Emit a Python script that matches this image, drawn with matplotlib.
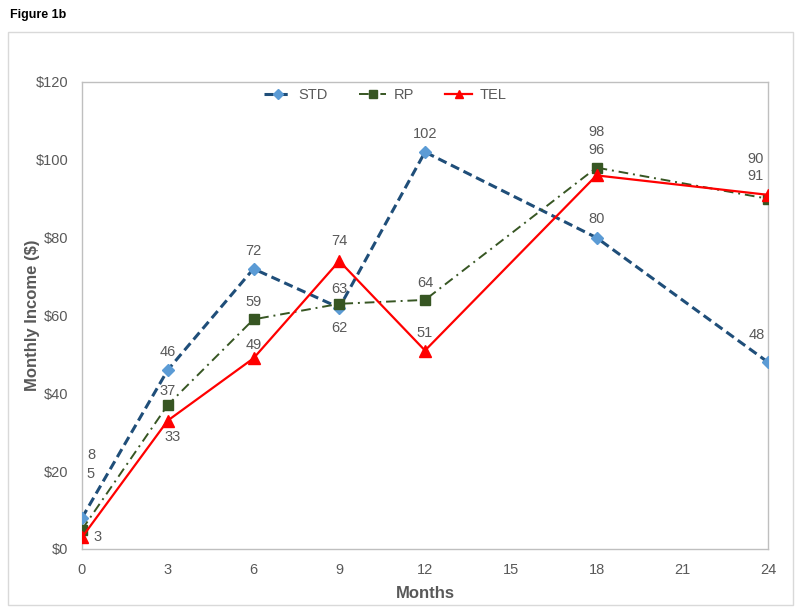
import matplotlib.pyplot as plt
from matplotlib.patches import Rectangle

plt.rcParams['font.family'] = ['Liberation Sans', 'DejaVu Sans']

months = [0, 3, 6, 9, 12, 18, 24]
std = [8, 46, 72, 62, 102, 80, 48]
rp = [5, 37, 59, 63, 64, 98, 90]
tel = [3, 33, 49, 74, 51, 96, 91]

# label offsets in pixels (as placed in the original)
std_off = [(9, 63), (0, 18), (0, 18), (0, -20), (0, 18), (0, 19), (-11, 27)]
rp_off = [(9, 56), (0, 14), (0, 17), (0, 15), (0, 17), (0, 36), (-12, 40)]
tel_off = [(16, 0), (5, -16), (0, 13), (0, 20), (0, 18), (0, 25), (-12, 19)]

grey = '#595959'

fig = plt.figure(figsize=(8, 6.11), dpi=100)
fig.patches.append(Rectangle((0.01, 0.01), 0.981, 0.938, transform=fig.transFigure,
                             fill=False, edgecolor='#D9D9D9', linewidth=1))
fig.text(0.0125, 0.975, 'Figure 1b', fontsize=9, fontweight='bold', va='center')

ax = fig.add_axes([0.1025, 0.1015, 0.8575, 0.7643])

ax.plot(months, std, linestyle=(0, (3, 1.6)), color='#1F4E79', linewidth=2.2,
        marker='D', markersize=6.5, markerfacecolor='#5B9BD5', markeredgecolor='#5B9BD5',
        label='STD', zorder=3)
ax.plot(months, rp, linestyle=(0, (5, 2.5, 1, 2.5)), color='#375623', linewidth=1.4,
        marker='s', markersize=7, markerfacecolor='#375623', markeredgecolor='#375623',
        label='RP', zorder=3)
ax.plot(months, tel, linestyle='-', color='#FF0000', linewidth=1.6,
        marker='^', markersize=8, markerfacecolor='#FF0000', markeredgecolor='#FF0000',
        label='TEL', zorder=3)

for vals, offs in [(std, std_off), (rp, rp_off), (tel, tel_off)]:
    for x, y, (dx, dy) in zip(months, vals, offs):
        ax.annotate(str(y), (x, y), xytext=(dx, dy), textcoords='offset pixels',
                    ha='center', va='center', fontsize=10.5, color=grey)

ax.set_xlim(0, 24)
ax.set_ylim(0, 120)
ax.set_xticks(range(0, 25, 3))
ax.set_yticks(range(0, 121, 20))
ax.set_yticklabels(['$%d' % v for v in range(0, 121, 20)])
ax.tick_params(length=0, labelsize=10.5, labelcolor=grey, pad=10)
for s in ax.spines.values():
    s.set_color('#BFBFBF')
    s.set_linewidth(1)

ax.set_xlabel('Months', fontsize=12, fontweight='bold', color=grey)
ax.set_ylabel('Monthly Income ($)', fontsize=12, fontweight='bold', color=grey)
ax.xaxis.set_label_coords(0.5, -0.079)
ax.yaxis.set_label_coords(-0.061, 0.5)

leg = ax.legend(loc='center', bbox_to_anchor=(0.442, 0.972), ncol=3, frameon=False,
                fontsize=10.5, labelcolor=grey, handlelength=1.9, handletextpad=0.5,
                columnspacing=2.1, markerscale=0.8)

plt.savefig('out.png', dpi=100)
